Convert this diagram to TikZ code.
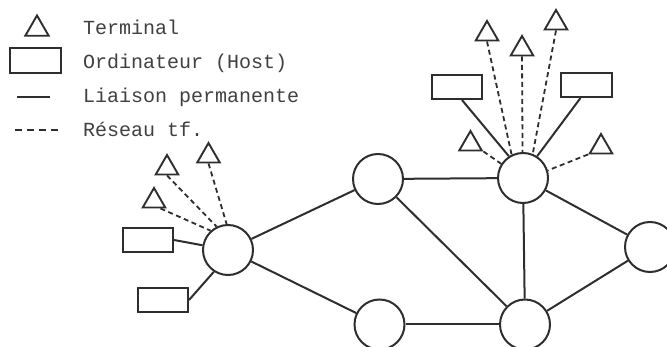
\documentclass[tikz,border=0pt]{standalone}
\usepackage{fontspec}
\setmonofont{Liberation Mono}
\usetikzlibrary{shapes.geometric,calc}
\definecolor{ink}{gray}{0.18}
\definecolor{txt}{gray}{0.25}
\begin{document}
\begin{tikzpicture}[x=1pt,y=-1pt,
  hub/.style={circle, draw=ink, line width=2pt, minimum size=50pt, inner sep=0pt},
  host/.style={rectangle, draw=ink, line width=2pt, minimum width=50pt, minimum height=24pt, inner sep=0pt},
  term/.style={regular polygon, regular polygon sides=3, draw=ink, line width=1.9pt, minimum size=26pt, inner sep=0pt},
  link/.style={draw=ink, line width=2pt},
  tf/.style={draw=ink, line width=1.8pt, dash pattern=on 5pt off 3.5pt},
  legend/.style={anchor=base west, font=\ttfamily\fontsize{20}{24}\selectfont, text=txt, inner sep=0pt}
]
\useasboundingbox (0,0) rectangle (667,347);
\clip (0,0) rectangle (667,347);

% legend
\node[term, minimum size=27pt] (LT) at (37,29) {};
\node[host, minimum width=51pt, minimum height=25pt] (LH) at (35.5,60.5) {};
\coordinate (ls1) at (17,97);
\coordinate (ls2) at (50,97);
\coordinate (ld1) at (15,130);
\coordinate (ld2) at (60,130);
\draw[link] (ls1) -- (ls2);
\draw[ink, line width=1.8pt, dash pattern=on 7pt off 5pt] (ld1) -- (ld2);
\node[legend] (L1) at (83,35) {Terminal};
\node[legend] (L2) at (83,69) {Ordinateur (Host)};
\node[legend] (L3) at (83,103) {Liaison permanente};
\node[legend] (L4) at (83,137) {Réseau tf.};

% network nodes
\node[hub] (A) at (228,250) {};
\node[hub] (B) at (378,179) {};
\node[hub] (C) at (523,178) {};
\node[hub] (D) at (650,247) {};
\node[hub] (E) at (379.5,324.5) {};
\node[hub] (F) at (525,324.5) {};

% hosts
\node[host] (H1) at (148,240) {};
\node[host] (H2) at (163,300) {};
\node[host] (HC1) at (457,87) {};
\node[host, minimum width=51pt] (HC2) at (586.5,85) {};

% terminals
\node[term] (T1) at (154,201) {};
\node[term] (T2) at (167,168) {};
\node[term] (T3) at (208.5,156) {};
\node[term] (TR1) at (487,34) {};
\node[term] (TR2) at (522,49) {};
\node[term] (TR3) at (556,23) {};
\node[term] (TR4) at (470.5,144) {};
\node[term] (TR5) at (601,147) {};

% permanent links
\draw[link] (A) -- (B);
\draw[link] (A) -- (E);
\draw[link] (B) -- (C);
\draw[link] (B) -- (F);
\draw[link] (C) -- (F);
\draw[link] (C) -- (D);
\draw[link] (D) -- (F);
\draw[link] (E) -- (F);
\draw[link] (H1.east) -- (A);
\draw[link] (H2.east) -- (A.237);
\draw[link] ($(HC1.south)+(5,0)$) -- (C.123);
\draw[link] ($(HC2.south)+(-6,0)$) -- (C.57);

% terminal connections (dashed)
\draw[tf] ($(T1.south)!0.5!(T1.corner 3)$) -- (A.132);
\draw[tf] (T2.south) -- (A.116);
\draw[tf] (T3.south) -- (A.93);
\draw[tf] (TR1.south) -- (C.116);
\draw[tf] (TR2.south) -- (C.91);
\draw[tf] (TR3.south) -- (C.68);
\draw[tf] (TR4.corner 3) -- (C.147);
\draw[tf] (TR5.corner 2) -- (C.17);
\end{tikzpicture}
\end{document}
